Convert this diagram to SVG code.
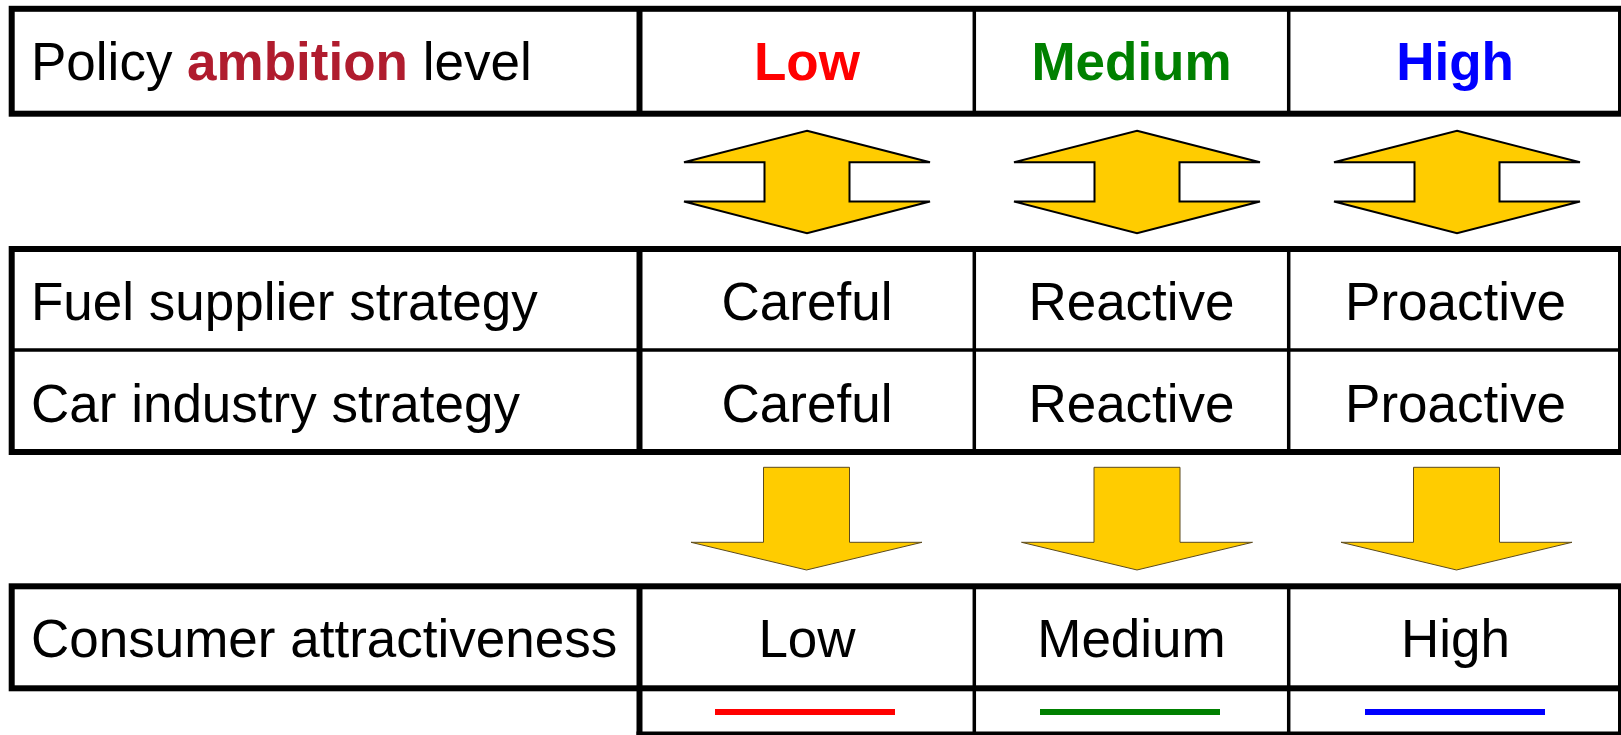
<svg xmlns="http://www.w3.org/2000/svg" width="1621" height="735" viewBox="0 0 1621 735">
<style>
  text { font-family: "Liberation Sans", Arial, sans-serif; font-size: 53px; fill: #000; }
  .c { text-anchor: middle; }
  .b { font-weight: bold; }
  .amb { fill: #B01C2E; }
  .red { fill: #FF0000; }
  .green { fill: #008000; }
  .blue { fill: #0000FF; }
  .thick { stroke: #000; stroke-width: 6; fill: none; }
  .thin { stroke: #000; stroke-width: 3.5; fill: none; }
  .dbl { fill: #FFCC00; stroke: #000; stroke-width: 2; stroke-linejoin: miter; }
  .down { fill: #FFCC00; stroke: #5C4A1E; stroke-width: 1; }
</style>
<defs>
  <polygon id="dblArrow" class="dbl" points="0,0 123,31.6 42.5,31.6 42.5,70.8 123,70.8 0,102.6 -123,70.8 -42.5,70.8 -42.5,31.6 -123,31.6"/>
  <polygon id="downArrow" class="down" points="-43,0 43,0 43,75 115.5,75 0,102.7 -115.5,75 -43,75"/>
</defs>
<rect width="1621" height="735" fill="#fff"/>

<g id="table-policy">
  <rect class="thick" x="11.7" y="8.8" width="1609.3" height="104.9"/>
  <line class="thick" x1="639.5" y1="8.8" x2="639.5" y2="113.7"/>
  <line class="thin" x1="974.3" y1="8.8" x2="974.3" y2="113.7"/>
  <line class="thin" x1="1288.7" y1="8.8" x2="1288.7" y2="113.7"/>
  <text x="31" y="80">Policy <tspan class="b amb">ambition</tspan> level</text>
  <text class="c b red" x="807" y="80">Low</text>
  <text class="c b green" x="1131.5" y="80">Medium</text>
  <text class="c b blue" x="1455" y="80">High</text>
</g>

<g id="table-strategy">
  <rect class="thick" x="11.7" y="249" width="1609.3" height="203"/>
  <line class="thin" x1="11.7" y1="350" x2="1621" y2="350"/>
  <line class="thick" x1="639.5" y1="249" x2="639.5" y2="452"/>
  <line class="thin" x1="974.3" y1="249" x2="974.3" y2="452"/>
  <line class="thin" x1="1288.7" y1="249" x2="1288.7" y2="452"/>
  <text x="31" y="320">Fuel supplier strategy</text>
  <text class="c" x="807" y="320">Careful</text>
  <text class="c" x="1131.5" y="320">Reactive</text>
  <text class="c" x="1455.5" y="320">Proactive</text>
  <text x="31" y="421.7">Car industry strategy</text>
  <text class="c" x="807" y="421.7">Careful</text>
  <text class="c" x="1131.5" y="421.7">Reactive</text>
  <text class="c" x="1455.5" y="421.7">Proactive</text>
</g>

<g id="table-consumer">
  <rect class="thick" x="11.7" y="586.3" width="1609.3" height="102"/>
  <line class="thick" x1="639.5" y1="586.3" x2="639.5" y2="688.3"/>
  <line class="thin" x1="974.3" y1="586.3" x2="974.3" y2="688.3"/>
  <line class="thin" x1="1288.7" y1="586.3" x2="1288.7" y2="688.3"/>
  <text x="31" y="657.3">Consumer attractiveness</text>
  <text class="c" x="807" y="657.3">Low</text>
  <text class="c" x="1131.5" y="657.3">Medium</text>
  <text class="c" x="1455.5" y="657.3">High</text>
</g>

<g id="legend-row">
  <line class="thick" x1="639.5" y1="688.3" x2="639.5" y2="735"/>
  <line class="thin" x1="974.3" y1="688.3" x2="974.3" y2="735"/>
  <line class="thin" x1="1288.7" y1="688.3" x2="1288.7" y2="735"/>
  <line class="thick" x1="1621" y1="688.3" x2="1621" y2="735"/>
  <line class="thick" x1="636.5" y1="734.5" x2="1621" y2="734.5"/>
  <line x1="715" y1="712" x2="895" y2="712" stroke="#FF0000" stroke-width="6"/>
  <line x1="1040" y1="712" x2="1220" y2="712" stroke="#008000" stroke-width="6"/>
  <line x1="1365" y1="712" x2="1545" y2="712" stroke="#0000FF" stroke-width="6"/>
</g>

<g id="connectors">
  <use href="#dblArrow" x="807" y="130.7"/>
  <use href="#dblArrow" x="1137" y="130.7"/>
  <use href="#dblArrow" x="1457" y="130.7"/>
  <use href="#downArrow" x="806.5" y="467.3"/>
  <use href="#downArrow" x="1137" y="467.3"/>
  <use href="#downArrow" x="1456.5" y="467.3"/>
</g>
</svg>
